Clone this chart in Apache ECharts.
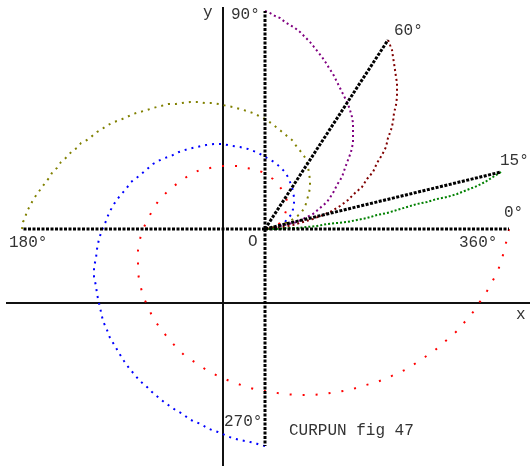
<!DOCTYPE html>
<html>
<head>
<meta charset="utf-8">
<script src="https://cdn.jsdelivr.net/npm/echarts@6/dist/echarts.min.js"></script>
<style>
  html, body { margin: 0; padding: 0; background: #fff; }
  #chart { width: 530px; height: 466px; }
</style>
</head>
<body>
<div id="chart"></div>
<script>
// 坐标：以 O 为原点，单位约为 1 像素，y 向上
// 从 0°/360° 出发的曲线 (红)
const redCurve = [
  [244, 0], [242, -9], [240, -19], [236, -33], [232, -44], [227, -53], [222, -62], [218, -69],
  [213, -75], [209, -82], [203, -89], [198, -95], [192, -102], [184, -109], [177, -115],
  [169, -122], [160, -128], [151, -134], [142, -140], [131, -145], [120, -150], [109, -154],
  [97, -157], [85, -161], [72, -163], [59, -165], [46, -166], [33, -166], [19, -165], [6, -163],
  [-8, -161], [-21, -157], [-33, -153], [-45, -148], [-57, -142], [-69, -134], [-80, -127],
  [-89, -118], [-97, -109], [-105, -99], [-112, -89], [-117, -78], [-122, -67], [-125, -55],
  [-127, -44], [-127, -32], [-127, -21], [-125, -10], [-122, 0], [-117, 10], [-112, 20],
  [-106, 29], [-98, 37], [-91, 43], [-83, 49], [-74, 55], [-65, 59], [-55, 61], [-45, 63],
  [-36, 63], [-27, 63], [-19, 61], [-11, 60], [-3, 57], [2, 54], [8, 50], [13, 45], [17, 39],
  [21, 33], [22, 27], [22, 21], [20, 15], [18, 11], [15, 6], [10, 3], [5, 1], [0, 0]
]
// 从 270° 出发的曲线 (蓝)
const blueCurve = [
  [0, -217], [-5, -216], [-10, -214], [-15, -213], [-20, -212], [-25, -211], [-29, -210],
  [-33, -209], [-38, -207], [-47, -203], [-53, -201], [-58, -199], [-64, -195], [-70, -193],
  [-76, -190], [-82, -185], [-88, -182], [-94, -178], [-101, -173], [-106, -169], [-113, -163],
  [-118, -158], [-125, -152], [-131, -145], [-136, -139], [-141, -132], [-146, -124],
  [-150, -117], [-155, -109], [-158, -101], [-162, -92], [-164, -83], [-166, -74], [-168, -65],
  [-169, -57], [-171, -48], [-171, -38], [-169, -29], [-168, -20], [-166, -10], [-163, -1],
  [-159, 8], [-156, 16], [-151, 25], [-146, 32], [-139, 40], [-134, 47], [-126, 53],
  [-119, 59], [-112, 65], [-103, 70], [-94, 73], [-86, 77], [-77, 80], [-68, 82], [-59, 84],
  [-51, 85], [-42, 85], [-33, 83], [-25, 82], [-17, 80], [-9, 77], [-3, 74], [2, 71], [9, 67],
  [14, 63], [19, 58], [23, 52], [25, 47], [27, 42], [28, 37], [29, 32], [29, 26], [28, 20],
  [27, 15], [23, 11], [20, 7], [15, 4], [10, 2], [5, 1], [0, 0]
]
// 从 180° 出发的曲线 (橄榄)
const oliveCurve = [
  [-243, 0], [-242, 7], [-240, 11], [-238, 18], [-235, 23], [-232, 29], [-228, 35], [-225, 39],
  [-220, 46], [-216, 51], [-212, 58], [-208, 61], [-204, 67], [-197, 73], [-193, 78],
  [-188, 81], [-184, 86], [-178, 89], [-174, 92], [-168, 97], [-163, 100], [-157, 104],
  [-151, 107], [-145, 109], [-138, 112], [-132, 115], [-125, 117], [-118, 119], [-112, 121],
  [-104, 123], [-97, 125], [-89, 125], [-83, 126], [-75, 127], [-67, 127], [-60, 126],
  [-53, 126], [-46, 125], [-38, 123], [-32, 122], [-25, 120], [-18, 118], [-12, 116],
  [-6, 113], [0, 110], [6, 106], [16, 98], [22, 93], [27, 89], [32, 82], [37, 76], [41, 70],
  [43, 62], [44, 56], [45, 49], [45, 42], [44, 36], [42, 29], [40, 22], [36, 16], [30, 11],
  [23, 7], [15, 4], [8, 2], [0, 0]
]
// 从 90° 出发的曲线 (紫)
const purpleCurve = [
  [0, 218], [5, 216], [10, 213], [15, 211], [20, 207], [25, 204], [30, 201], [35, 197],
  [40, 192], [45, 187], [49, 182], [53, 177], [57, 172], [61, 166], [64, 161], [68, 155],
  [71, 149], [74, 143], [77, 137], [80, 131], [83, 125], [85, 119], [87, 112], [88, 106],
  [88, 99], [88, 92], [88, 86], [86, 77], [83, 69], [80, 61], [77, 52], [72, 44], [68, 36],
  [62, 27], [55, 21], [48, 15], [40, 11], [32, 7], [23, 5], [15, 3], [7, 1], [0, 0]
]
// 从 60° 出发的曲线 (褐红)
const maroonCurve = [
  [123, 189], [125, 184], [127, 179], [128, 172], [129, 166], [130, 159], [131, 152],
  [132, 146], [132, 139], [132, 132], [131, 124], [129, 116], [128, 107], [126, 99],
  [123, 91], [121, 82], [117, 74], [112, 66], [108, 57], [102, 50], [97, 42], [90, 36],
  [83, 29], [75, 23], [67, 18], [58, 14], [48, 10], [38, 7], [28, 4], [18, 2], [8, 1], [0, 0]
]
// 从 15° 出发的曲线 (绿)
const greenCurve = [
  [236, 57], [228, 52], [220, 47], [212, 43], [202, 39], [192, 35], [182, 32], [172, 30],
  [162, 27], [152, 25], [142, 22], [132, 19], [122, 16], [112, 14], [102, 11], [92, 9],
  [82, 7], [72, 6], [62, 5], [52, 3], [42, 2], [32, 1], [22, 1], [12, 0], [0, 0]
]
// 起点 (0°, 15°, 60°, 90°, 180°, 270°)
const startPoints = [[244, 0], [236, 57], [123, 189], [0, 218], [-243, 0], [0, -217]]
// x、y 坐标轴所在位置
const axisX = [[-259, -74], [265, -74]]
const axisY = [[-42, 222], [-42, -237]]

const chart = echarts.init(document.getElementById('chart'))

const curve = (data, color, dash) => ({
  type: 'line',
  data,
  symbol: 'none',
  silent: true,
  animation: false,
  lineStyle: {color, width: 2, type: dash, cap: 'butt'}
})

const radials = startPoints.map(p => ({
  type: 'line',
  data: [[0, 0], p],
  symbol: 'none',
  silent: true,
  animation: false,
  z: 3,
  lineStyle: {color: '#000', width: 3, type: [3, 1.5], cap: 'butt'}
}))

const axisLine = data => ({
  type: 'line',
  data,
  symbol: 'none',
  silent: true,
  animation: false,
  lineStyle: {color: '#111', width: 2}
})

const font = '16px "Liberation Mono", monospace'
const label = (text, x, y) => ({
  type: 'text',
  x, y,
  silent: true,
  style: {text, font, fill: '#333', verticalAlign: 'middle'}
})

chart.setOption({
  backgroundColor: '#fff',
  animation: false,
  grid: {left: 0, right: 0, top: 0, bottom: 0},
  xAxis: {type: 'value', min: -265, max: 265, show: false},
  yAxis: {type: 'value', min: -237, max: 229, show: false},
  series: [
    axisLine(axisX),
    axisLine(axisY),
    curve(redCurve, '#ff0000', [2, 11]),
    curve(blueCurve, '#0000ff', [2, 5]),
    curve(oliveCurve, '#808000', [2, 5]),
    curve(purpleCurve, '#800080', [2, 3]),
    curve(maroonCurve, '#800000', [2, 3]),
    curve(greenCurve, '#008000', [2, 2]),
    ...radials
  ],
  graphic: [
    label('y', 203, 13),
    label('90°', 231, 15),
    label('60°', 394, 31),
    label('15°', 500, 161),
    label('0°', 504, 213),
    label('360°', 459, 243),
    label('180°', 9, 243),
    label('O', 248, 242),
    label('x', 516, 315),
    label('270°', 224, 422),
    label('CURPUN fig 47', 289, 431)
  ]
})
</script>
</body>
</html>
